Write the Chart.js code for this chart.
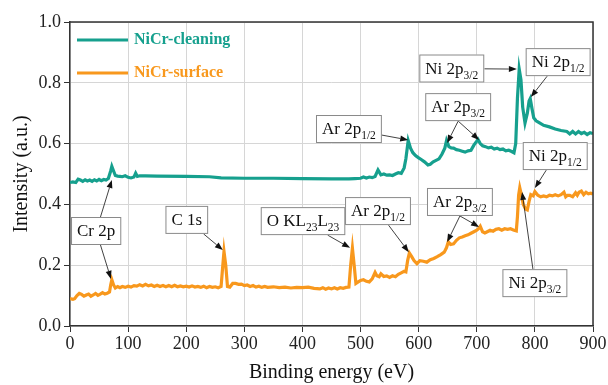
<!DOCTYPE html>
<html>
<head>
<meta charset="utf-8">
<script src="https://cdn.jsdelivr.net/npm/chart.js@4"></script>
<style>
html, body { margin: 0; padding: 0; background: #fff; }
</style>
</head>
<body>
<canvas id="xpsChart" width="608" height="385"></canvas>
<script>
// NiCr-cleaning (teal)
const cleanX = [0,5,10,14,18,22,26,30,34,38,42,46,50,54,58,62,66,70,72,75,78,82,86,90,95,100,105,110,113,116,120,130,150,200,240,260,300,350,400,450,480,490,500,505,510,515,520,525,530,535,540,545,550,555,560,565,570,575,578,582,586,590,595,600,605,610,616,620,625,630,635,640,645,648,652,656,660,665,670,675,680,685,690,695,700,702,706,710,715,720,725,730,735,740,745,750,755,760,764,767,770,773,776,779,783,787,790,792,795,798,802,808,815,825,835,845,855,860,865,870,875,880,885,890,895,900];
const cleanY = [0.472,0.474,0.472,0.483,0.48,0.476,0.481,0.477,0.48,0.476,0.481,0.477,0.482,0.478,0.482,0.48,0.485,0.51,0.525,0.51,0.495,0.493,0.492,0.491,0.494,0.489,0.487,0.49,0.503,0.492,0.494,0.494,0.493,0.492,0.491,0.487,0.486,0.486,0.485,0.484,0.484,0.485,0.486,0.49,0.487,0.49,0.488,0.492,0.513,0.497,0.5,0.496,0.497,0.495,0.5,0.504,0.502,0.52,0.55,0.61,0.585,0.57,0.56,0.553,0.547,0.54,0.53,0.532,0.54,0.545,0.55,0.565,0.585,0.61,0.59,0.586,0.585,0.58,0.578,0.575,0.572,0.576,0.578,0.595,0.608,0.614,0.6,0.593,0.59,0.586,0.588,0.582,0.585,0.58,0.582,0.576,0.578,0.574,0.57,0.6,0.75,0.845,0.81,0.72,0.668,0.7,0.74,0.748,0.715,0.685,0.675,0.668,0.66,0.655,0.648,0.643,0.64,0.632,0.64,0.632,0.64,0.633,0.637,0.63,0.636,0.633];

// NiCr-surface (orange)
const surfX = [0,5,8,12,16,20,24,28,32,36,40,44,48,52,56,60,64,68,70,72,75,78,82,86,90,95,100,105,110,115,120,125,130,135,140,145,150,155,160,165,170,175,180,185,190,195,200,205,210,215,220,225,230,235,240,245,250,255,260,263,265,268,271,275,280,285,290,295,300,305,310,315,320,325,330,335,340,350,360,370,380,390,400,410,420,430,435,440,445,450,455,460,465,470,475,480,483,486,489,492,496,500,505,510,515,520,525,528,532,535,540,545,550,555,560,565,570,575,578,581,584,588,592,597,602,608,614,620,626,632,638,644,648,651,655,660,665,670,675,680,685,690,695,700,703,706,710,714,718,723,728,733,738,743,748,753,758,763,768,770,772,774,777,780,784,787,790,793,797,800,805,810,815,820,825,830,835,840,845,850,853,856,860,865,870,873,876,880,884,888,892,896,900];
const surfY = [0.09,0.088,0.09,0.1,0.107,0.104,0.098,0.102,0.105,0.098,0.102,0.107,0.101,0.105,0.11,0.105,0.108,0.112,0.135,0.152,0.135,0.125,0.13,0.126,0.13,0.127,0.131,0.128,0.133,0.131,0.136,0.132,0.137,0.132,0.135,0.13,0.134,0.13,0.133,0.129,0.133,0.129,0.134,0.129,0.132,0.129,0.131,0.128,0.132,0.128,0.13,0.127,0.131,0.126,0.13,0.127,0.129,0.126,0.13,0.2,0.245,0.2,0.13,0.128,0.14,0.14,0.137,0.138,0.133,0.135,0.13,0.133,0.128,0.131,0.127,0.13,0.127,0.129,0.126,0.128,0.125,0.127,0.126,0.128,0.124,0.122,0.126,0.121,0.125,0.122,0.126,0.122,0.126,0.124,0.127,0.128,0.2,0.256,0.2,0.14,0.145,0.15,0.152,0.147,0.145,0.155,0.176,0.165,0.162,0.172,0.163,0.165,0.16,0.165,0.162,0.17,0.175,0.18,0.178,0.215,0.24,0.228,0.215,0.205,0.215,0.213,0.21,0.218,0.222,0.228,0.235,0.243,0.258,0.277,0.268,0.27,0.282,0.29,0.293,0.297,0.3,0.305,0.31,0.315,0.32,0.328,0.31,0.306,0.31,0.315,0.312,0.318,0.32,0.315,0.32,0.318,0.32,0.316,0.313,0.36,0.43,0.455,0.43,0.4,0.385,0.382,0.41,0.432,0.428,0.442,0.43,0.425,0.428,0.425,0.43,0.428,0.432,0.428,0.432,0.44,0.425,0.43,0.43,0.425,0.438,0.43,0.44,0.444,0.432,0.44,0.435,0.437,0.434];

const xTicks = [0, 100, 200, 300, 400, 500, 600, 700, 800, 900];
const yTicks = [0.0, 0.2, 0.4, 0.6, 0.8, 1.0];
const seriesNames = ["NiCr-cleaning", "NiCr-surface"];

// peak labels: text, box centre (data), arrow targets (data), join = arrows share one start
const peakLabels = [
    { text: "Ni 2p_{3/2}", at: [657, 0.847], to: [[769, 0.845]] },
    { text: "Ni 2p_{1/2}", at: [840, 0.868], to: [[793, 0.753]] },
    { text: "Ar 2p_{3/2}", at: [668, 0.72], to: [[649, 0.602], [704, 0.612]], join: true },
    { text: "Ar 2p_{1/2}", at: [480, 0.648], to: [[582, 0.612]] },
    { text: "Cr 2p", at: [45, 0.3125], to: [[72, 0.48], [70.5, 0.155]] },
    { text: "C 1s", at: [201, 0.349], to: [[263, 0.25]] },
    { text: "O KL_{23}L_{23}", at: [401, 0.345], to: [[482, 0.257]] },
    { text: "Ar 2p_{1/2}", at: [530, 0.378], to: [[583, 0.243]] },
    { text: "Ar 2p_{3/2}", at: [671, 0.408], to: [[649, 0.276], [704, 0.326]], join: true },
    { text: "Ni 2p_{1/2}", at: [835, 0.559], to: [[800, 0.454]] },
    { text: "Ni 2p_{3/2}", at: [800, 0.141], to: [[778, 0.441]] }
];

const TEAL = "#16a08e";
const ORANGE = "#f8981d";
const SERIF = "'Liberation Serif', 'Times New Roman', serif";

// split "Ni 2p_{3/2}" into normal / subscript pieces
function splitText(s) {
    const out = [];
    const re = /_\{([^}]*)\}/g;
    let last = 0, m;
    while ((m = re.exec(s)) !== null) {
        if (m.index > last) out.push({ t: s.slice(last, m.index), sub: false });
        out.push({ t: m[1], sub: true });
        last = re.lastIndex;
    }
    if (last < s.length) out.push({ t: s.slice(last), sub: false });
    return out;
}

function arrow(ctx, x0, y0, x1, y1) {
    const ang = Math.atan2(y1 - y0, x1 - x0);
    const len = 8, half = 3;
    ctx.beginPath();
    ctx.moveTo(x0, y0);
    ctx.lineTo(x1 - Math.cos(ang) * len, y1 - Math.sin(ang) * len);
    ctx.stroke();
    ctx.beginPath();
    ctx.moveTo(x1, y1);
    ctx.lineTo(x1 - Math.cos(ang) * len - Math.sin(ang) * half, y1 - Math.sin(ang) * len + Math.cos(ang) * half);
    ctx.lineTo(x1 - Math.cos(ang) * len + Math.sin(ang) * half, y1 - Math.sin(ang) * len - Math.cos(ang) * half);
    ctx.closePath();
    ctx.fill();
}

// point where the line from box centre to target leaves the box
function boxEdge(cx, cy, w, h, tx, ty) {
    const dx = tx - cx, dy = ty - cy;
    const sx = dx !== 0 ? (w / 2) / Math.abs(dx) : Infinity;
    const sy = dy !== 0 ? (h / 2) / Math.abs(dy) : Infinity;
    const s = Math.min(sx, sy);
    return [cx + dx * s, cy + dy * s];
}

const decor = {
    id: "decor",
    afterDatasetsDraw(chart) {
        const ctx = chart.ctx;
        const a = chart.chartArea;
        const xs = chart.scales.x, ys = chart.scales.y;
        ctx.save();

        // frame top / right
        ctx.strokeStyle = "#333";
        ctx.lineWidth = 1.5;
        ctx.beginPath();
        ctx.moveTo(a.left, a.top);
        ctx.lineTo(a.right, a.top);
        ctx.lineTo(a.right, a.bottom);
        ctx.stroke();

        // legend
        const legCols = [TEAL, ORANGE];
        ctx.font = "bold 16px " + SERIF;
        ctx.textBaseline = "middle";
        seriesNames.forEach((name, i) => {
            const y = a.top + 18 + i * 33;
            ctx.strokeStyle = legCols[i];
            ctx.lineWidth = 3;
            ctx.beginPath();
            ctx.moveTo(a.left + 7, y);
            ctx.lineTo(a.left + 58, y);
            ctx.stroke();
            ctx.fillStyle = legCols[i];
            ctx.fillText(name, a.left + 64, y);
        });

        // peak labels
        const big = "17px " + SERIF, small = "11.5px " + SERIF;
        peakLabels.forEach(p => {
            const parts = splitText(p.text);
            let w = 0;
            parts.forEach(q => {
                ctx.font = q.sub ? small : big;
                q.w = ctx.measureText(q.t).width;
                w += q.w;
            });
            const bw = w + 12, bh = 28;
            const cx = xs.getPixelForValue(p.at[0]);
            const cy = ys.getPixelForValue(p.at[1]);

            ctx.strokeStyle = "#111";
            ctx.fillStyle = "#111";
            ctx.lineWidth = 0.8;
            p.to.forEach(t => {
                const tx = xs.getPixelForValue(t[0]);
                const ty = ys.getPixelForValue(t[1]);
                let s;
                if (p.join) s = [cx, ty > cy ? cy + bh / 2 : cy - bh / 2];
                else s = boxEdge(cx, cy, bw, bh, tx, ty);
                arrow(ctx, s[0], s[1], tx, ty);
            });

            ctx.fillStyle = "#fff";
            ctx.fillRect(cx - bw / 2, cy - bh / 2, bw, bh);
            ctx.strokeStyle = "#8a8a8a";
            ctx.lineWidth = 1;
            ctx.strokeRect(cx - bw / 2 + 0.5, cy - bh / 2 + 0.5, bw - 1, bh - 1);

            let x = cx - w / 2;
            ctx.fillStyle = "#111";
            ctx.textBaseline = "alphabetic";
            parts.forEach(q => {
                ctx.font = q.sub ? small : big;
                ctx.fillText(q.t, x, cy + 5 + (q.sub ? 5 : 0));
                x += q.w;
            });
        });
        ctx.restore();
    }
};

const ctx = document.getElementById("xpsChart").getContext("2d");

new Chart(ctx, {
    type: "line",
    data: {
        datasets: [
            {
                label: seriesNames[0],
                data: cleanX.map((x, i) => ({ x: x, y: cleanY[i] })),
                borderColor: TEAL,
                borderWidth: 3.2,
                pointRadius: 0,
                tension: 0,
                fill: false
            },
            {
                label: seriesNames[1],
                data: surfX.map((x, i) => ({ x: x, y: surfY[i] })),
                borderColor: ORANGE,
                borderWidth: 3.2,
                pointRadius: 0,
                tension: 0,
                fill: false
            }
        ]
    },
    options: {
        responsive: false,
        animation: false,
        layout: { padding: { left: 10, top: 22, right: 15, bottom: 0 } },
        plugins: {
            legend: { display: false },
            tooltip: { enabled: false }
        },
        scales: {
            x: {
                type: "linear",
                min: 0,
                max: 900,
                afterBuildTicks: s => { s.ticks = xTicks.map(v => ({ value: v })); },
                afterFit: s => { s.height = 59; },
                ticks: { color: "#222", font: { family: SERIF, size: 18 }, padding: 1, maxRotation: 0 },
                grid: { color: "#d6d6d6", tickColor: "#333", tickLength: 6 },
                border: { color: "#333", width: 1.5 },
                title: { display: true, text: "Binding energy (eV)", color: "#111", font: { family: SERIF, size: 20 }, padding: { top: 0, bottom: 0 } }
            },
            y: {
                min: 0,
                max: 1,
                afterBuildTicks: s => { s.ticks = yTicks.map(v => ({ value: v })); },
                afterFit: s => { s.width = 60; },
                ticks: { color: "#222", font: { family: SERIF, size: 18 }, padding: 3, callback: v => v.toFixed(1) },
                grid: { color: "#d6d6d6", tickColor: "#333", tickLength: 6 },
                border: { color: "#333", width: 1.5 },
                title: { display: true, text: "Intensity (a.u.)", color: "#111", font: { family: SERIF, size: 20 }, padding: { top: 0, bottom: 0 } }
            }
        }
    },
    plugins: [decor]
});
</script>
</body>
</html>
